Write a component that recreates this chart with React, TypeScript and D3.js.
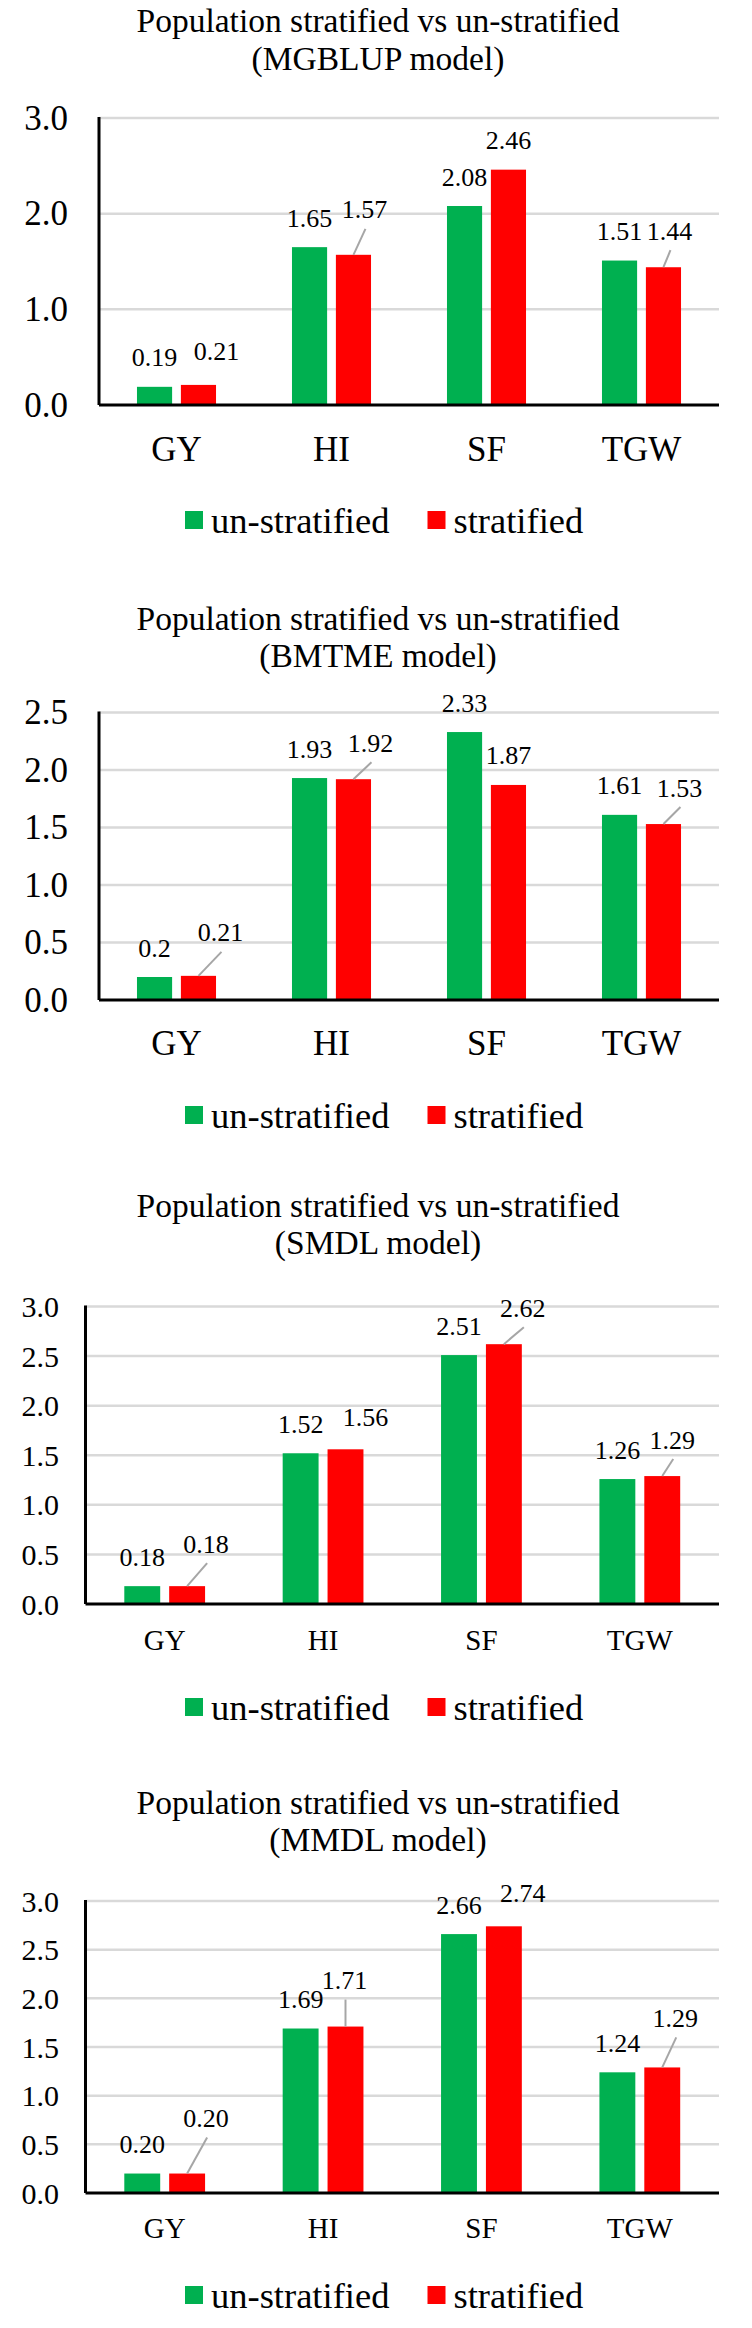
import React from 'react';
import * as d3 from 'd3';

// ---- data ----
const categories = ['GY', 'HI', 'SF', 'TGW'];
const seriesNames = ['un-stratified', 'stratified'];
const seriesColors = ['#00B050', '#FF0000'];

const mgblupUnstratified = [0.19, 1.65, 2.08, 1.51];
const mgblupStratified = [0.21, 1.57, 2.46, 1.44];

const bmtmeUnstratified = [0.2, 1.93, 2.33, 1.61];
const bmtmeStratified = [0.21, 1.92, 1.87, 1.53];

const smdlUnstratified = [0.18, 1.52, 2.51, 1.26];
const smdlStratified = [0.18, 1.56, 2.62, 1.29];

const mmdlUnstratified = [0.2, 1.69, 2.66, 1.24];
const mmdlStratified = [0.2, 1.71, 2.74, 1.29];

// moved data labels of the red series: [dx, dy, leader line]
const mgblupNudges: [number, number, boolean][] = [[18, -4, false], [11, -16, true], [0, 0, false], [6, -7, true]];
const bmtmeNudges: [number, number, boolean][] = [[22, -14, true], [17, -7, true], [0, 0, false], [16, -7, true]];
const smdlNudges: [number, number, boolean][] = [[19, -13, true], [20, -3, false], [19, -7, true], [10, -7, true]];
const mmdlNudges: [number, number, boolean][] = [[19, -26, true], [-1, -17, true], [19, -4, false], [13, -20, true]];

const FONT = '"Liberation Serif", "Times New Roman", Times, serif';
const txt = { fontFamily: FONT };

const charts = [
  {
    model: 'MGBLUP', values: [mgblupUnstratified, mgblupStratified], nudges: mgblupNudges,
    fmt: (v: number) => v.toFixed(2), yMax: 3, step: 1,
    titleY: 20.5, plotTop: 118, plotBottom: 405, left: 99, catY: 449, legendY: 520,
    tickFont: 35, tickRight: 68, catFont: 35,
  },
  {
    model: 'BMTME', values: [bmtmeUnstratified, bmtmeStratified], nudges: bmtmeNudges,
    fmt: (v: number) => String(v), yMax: 2.5, step: 0.5,
    titleY: 618, plotTop: 712.5, plotBottom: 1000, left: 99, catY: 1043, legendY: 1115,
    tickFont: 35, tickRight: 68, catFont: 35,
  },
  {
    model: 'SMDL', values: [smdlUnstratified, smdlStratified], nudges: smdlNudges,
    fmt: (v: number) => v.toFixed(2), yMax: 3, step: 0.5,
    titleY: 1205, plotTop: 1306.5, plotBottom: 1604, left: 85.5, catY: 1640, legendY: 1707,
    tickFont: 30, tickRight: 59, catFont: 29,
  },
  {
    model: 'MMDL', values: [mmdlUnstratified, mmdlStratified], nudges: mmdlNudges,
    fmt: (v: number) => v.toFixed(2), yMax: 3, step: 0.5,
    titleY: 1802, plotTop: 1901, plotBottom: 2193, left: 85.5, catY: 2228, legendY: 2295,
    tickFont: 30, tickRight: 59, catFont: 29,
  },
];

const RIGHT = 719;
const legendX = [185, 427.5];

const Chart = ({ c }: { c: typeof charts[number] }) => {
  const x0 = d3.scaleBand<string>().domain(categories).range([c.left, RIGHT]).paddingInner(0.49).paddingOuter(0.245);
  const x1 = d3.scaleBand<string>().domain(seriesNames).range([0, x0.bandwidth()]).paddingInner(0.2);
  const y = d3.scaleLinear().domain([0, c.yMax]).range([c.plotBottom, c.plotTop]);
  const ticks = d3.range(0, c.yMax + 1e-9, c.step);

  return (
    <g>
      <text x={378} y={c.titleY} textAnchor="middle" dominantBaseline="central" fontSize={33.5} style={txt}>
        Population stratified vs un-stratified
      </text>
      <text x={378} y={c.titleY + 37.5} textAnchor="middle" dominantBaseline="central" fontSize={33.5} style={txt}>
        ({c.model} model)
      </text>

      {ticks.map(t => (
        <g key={t}>
          {t > 0 && <line x1={c.left} x2={RIGHT} y1={y(t)} y2={y(t)} stroke="#d9d9d9" strokeWidth={2.5} />}
          <text x={c.tickRight} y={y(t)} textAnchor="end" dominantBaseline="central" fontSize={c.tickFont} style={txt}>
            {d3.format('.1f')(t)}
          </text>
        </g>
      ))}

      {categories.map((cat, ci) =>
        seriesNames.map((s, si) => {
          const v = c.values[si][ci];
          const bx = (x0(cat) ?? 0) + (x1(s) ?? 0);
          const cx = bx + x1.bandwidth() / 2;
          const top = y(v);
          const [dx, dy, leader] = si === 1 ? c.nudges[ci] : [0, 0, false];
          const lx = cx + dx;
          const ly = top - 29 + dy;
          return (
            <g key={cat + s}>
              <rect x={bx} y={top} width={x1.bandwidth()} height={c.plotBottom - top} fill={seriesColors[si]} />
              {leader && <line x1={lx + 1} y1={ly + 19} x2={cx} y2={top} stroke="#a6a6a6" strokeWidth={2} />}
              <text x={lx} y={ly} textAnchor="middle" dominantBaseline="central" fontSize={26} style={txt}>
                {c.fmt(v)}
              </text>
            </g>
          );
        })
      )}

      <line x1={c.left} x2={c.left} y1={c.plotTop - 1} y2={c.plotBottom} stroke="#000" strokeWidth={3} />
      <line x1={c.left} x2={RIGHT} y1={c.plotBottom} y2={c.plotBottom} stroke="#000" strokeWidth={3} />

      {categories.map(cat => (
        <text key={cat} x={(x0(cat) ?? 0) + x0.bandwidth() / 2} y={c.catY} textAnchor="middle"
          dominantBaseline="central" fontSize={c.catFont} style={txt}>
          {cat}
        </text>
      ))}

      {seriesNames.map((s, si) => (
        <g key={s}>
          <rect x={legendX[si]} y={c.legendY - 9} width={18} height={18} fill={seriesColors[si]} />
          <text x={legendX[si] + 26} y={c.legendY} dominantBaseline="central" fontSize={36.5} style={txt}>{s}</text>
        </g>
      ))}
    </g>
  );
};

export default function App() {
  return (
    <svg width={752} height={2328} style={{ position: 'absolute', left: 0, top: 0, background: '#fff' }}
      fontFamily={FONT} fill="#000">
      <rect width={752} height={2328} fill="#fff" />
      {charts.map(c => <Chart key={c.model} c={c} />)}
    </svg>
  );
}
